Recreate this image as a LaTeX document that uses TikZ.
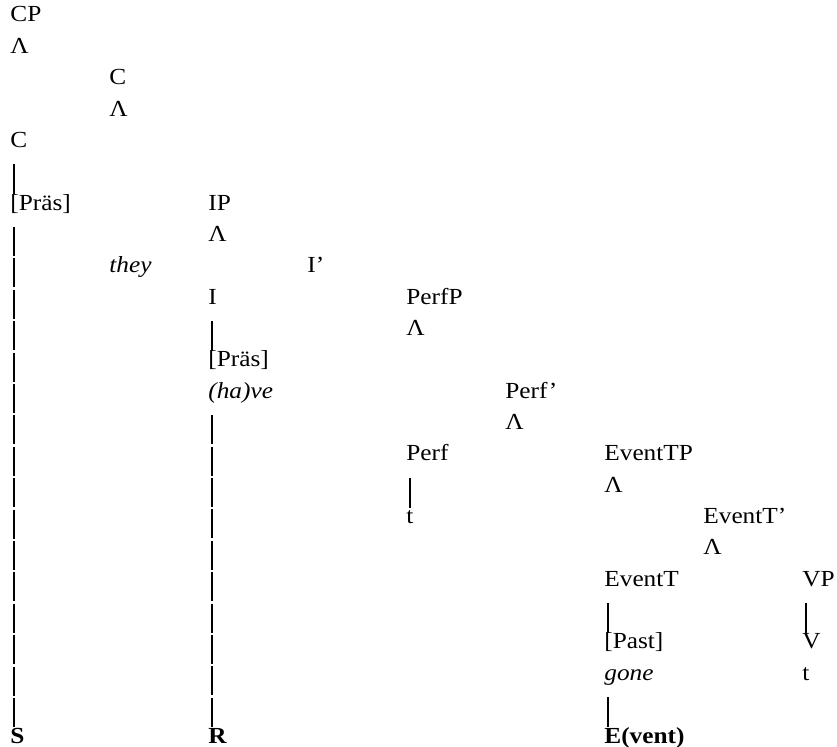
\documentclass[tikz,border=0pt]{standalone}
\usepackage{fontspec}
\setmainfont{Liberation Serif}[FakeStretch=1.1]
\usepackage{tikz}
\usetikzlibrary{positioning}

\begin{document}
\begin{tikzpicture}[
	x=1.7397cm, y=-0.5509cm,
	% labels of the tree, set on their baseline
	lbl/.style={anchor=base west, inner sep=0pt, font=\fontsize{11.5}{14}\selectfont},
	word/.style={lbl, font=\fontsize{11.5}{14}\selectfont\itshape},
	reftime/.style={lbl, font=\fontsize{11.5}{14}\selectfont\bfseries},
	% vertical strokes
	stem/.style={line width=0.8pt},
	chain/.style={stem, dash pattern=on 14.5pt off 1.2pt}
	]
	\useasboundingbox (-5pt,11pt) rectangle (413.5pt,-362.5pt);
	
	% CP and C'
	\node[lbl] (cp) at (0,0) {CP};
	\node[lbl] (cpw) at (0,1) {Λ};
	\node[lbl] (cbar) at (1,2) {C};
	\node[lbl] (cbarw) at (1,3) {Λ};
	\node[lbl] (c) at (0,4) {C};
	\node[lbl] (cpres) at (0,6) {[Präs]};
	
	% IP
	\node[lbl] (ip) at (2,6) {IP};
	\node[lbl] (ipw) at (2,7) {Λ};
	\node[word] (they) at (1,8) {they};
	\node[lbl] (ibar) at (3,8) {I’};
	\node[lbl] (i) at (2,9) {I};
	\node[lbl] (ipres) at (2,11) {[Präs]};
	\node[word] (have) at (2,12) {(ha)ve};
	
	% PerfP
	\node[lbl] (perfp) at (4,9) {PerfP};
	\node[lbl] (perfpw) at (4,10) {Λ};
	\node[lbl] (perfbar) at (5,12) {Perf’};
	\node[lbl] (perfbarw) at (5,13) {Λ};
	\node[lbl] (perf) at (4,14) {Perf};
	\node[lbl] (perft) at (4,16) {t};
	
	% EventTP
	\node[lbl] (evtp) at (6,14) {EventTP};
	\node[lbl] (evtpw) at (6,15) {Λ};
	\node[lbl] (evtbar) at (7,16) {EventT’};
	\node[lbl] (evtbarw) at (7,17) {Λ};
	\node[lbl] (evt) at (6,18) {EventT};
	\node[lbl] (past) at (6,20) {[Past]};
	\node[word] (gone) at (6,21) {gone};
	\node[lbl] (vp) at (8,18) {VP};
	\node[lbl] (v) at (8,20) {V};
	\node[lbl] (vt) at (8,21) {t};
	
	% S, R and E on the bottom line
	\node[reftime] (s) at (0,23) {S};
	\node[reftime] (r) at (2,23) {R};
	\node[reftime] (e) at (6,23) {E(vent)};
	
	% short strokes
	\foreach \a/\b in {c/cpres, i/ipres, perf/perft, evt/past, vp/v, gone/e}
		\draw[stem] ([xshift=2pt,yshift=-8.5pt]\a.base west) -- ([xshift=2pt,yshift=7.8pt]\b.base west);
	% long strokes down to S and R
	\foreach \a/\b in {cpres/s, have/r}
		\draw[chain] ([xshift=2pt,yshift=-8.5pt]\a.base west) -- ([xshift=2pt,yshift=7.8pt]\b.base west);
\end{tikzpicture}
\end{document}
